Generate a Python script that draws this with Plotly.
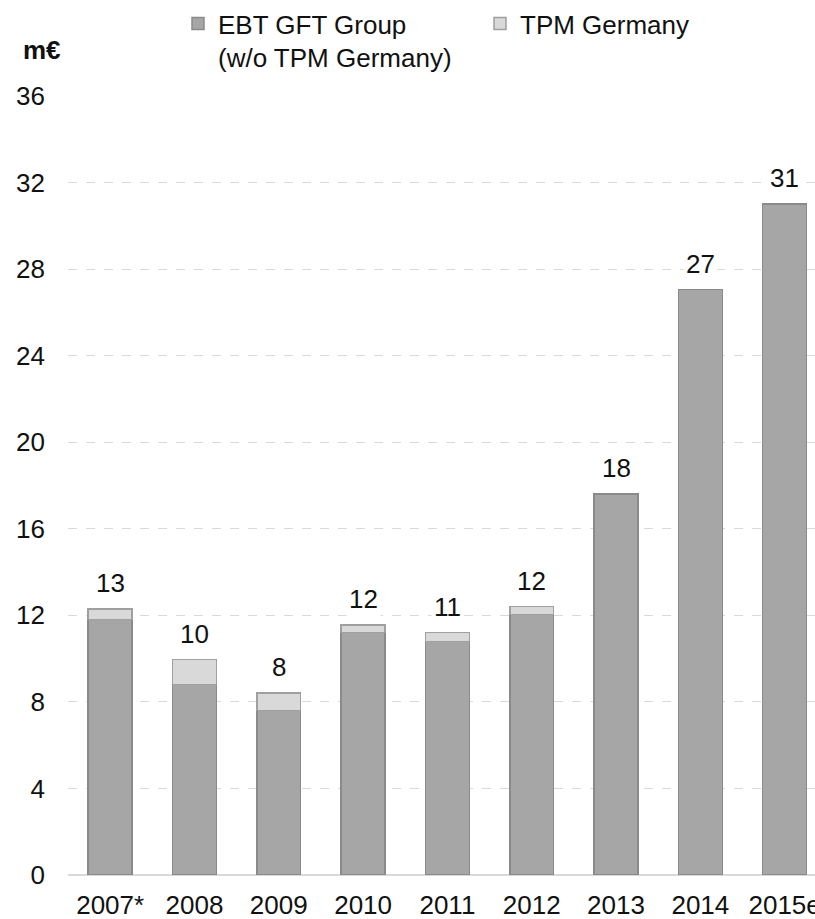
import plotly.graph_objects as go

categories = ["2007*", "2008", "2009", "2010", "2011", "2012", "2013", "2014", "2015e"]
ebt_values = [11.8, 8.8, 7.6, 11.2, 10.8, 12.05, 17.6, 27.05, 31.0]
tpm_values = [0.5, 1.15, 0.8, 0.35, 0.4, 0.35, None, None, None]
total_labels = ["13", "10", "8", "12", "11", "12", "18", "27", "31"]
y_ticks = [0, 4, 8, 12, 16, 20, 24, 28, 32, 36]

FONT = "Liberation Sans, Arial, sans-serif"
DARK = "#a6a6a6"
LIGHT = "#d9d9d9"
EDGE = "#8a8a8a"
FS = 26

fig = go.Figure()
fig.add_trace(go.Bar(
    x=categories, y=ebt_values, name="EBT GFT Group<br>(w/o TPM Germany)",
    marker=dict(color=DARK, line=dict(color=EDGE, width=1.5)),
))
fig.add_trace(go.Bar(
    x=categories, y=tpm_values, name="TPM Germany",
    marker=dict(color=LIGHT, line=dict(color="#a0a0a0", width=1.5)),
))

totals = [e + (t or 0) for e, t in zip(ebt_values, tpm_values)]
for i, (tot, lab) in enumerate(zip(totals, total_labels)):
    fig.add_annotation(x=i, y=tot, text=lab, showarrow=False, yanchor="middle",
                       yshift=26, font=dict(family=FONT, size=FS, color="#111111"),
                       bgcolor="white", borderpad=2)

fig.add_annotation(xref="paper", yref="paper", x=-0.063, y=1.0, yshift=46,
                   text="<b>m€</b>", showarrow=False, xanchor="left", yanchor="middle",
                   font=dict(family=FONT, size=FS, color="#111111"))

fig.update_layout(
    template="none",
    width=815, height=919,
    margin=dict(l=68, r=0, t=96, b=44),
    barmode="stack",
    bargap=0.48,
    plot_bgcolor="white", paper_bgcolor="white",
    font=dict(family=FONT, size=FS, color="#111111"),
    legend=dict(orientation="h", xref="container", yref="container",
                x=178 / 815, y=1.0, xanchor="left", yanchor="top",
                valign="top", traceorder="normal",
                entrywidth=257, entrywidthmode="pixels",
                font=dict(family=FONT, size=FS, color="#111111")),
    xaxis=dict(type="category", range=[-0.5, 8.36], showgrid=False, showline=False,
               zeroline=False, ticks="", automargin=False, ticklabelstandoff=12,
               tickfont=dict(family=FONT, size=FS)),
    yaxis=dict(range=[0, 36], tickvals=y_ticks, showgrid=True, gridcolor="#d9d9d9",
               griddash="dash", gridwidth=1, zeroline=True, zerolinecolor="#d9d9d9",
               zerolinewidth=1.5, showline=False, ticks="", automargin=False,
               ticklabelstandoff=22, tickfont=dict(family=FONT, size=FS)),
)

fig.write_html("out.html")
